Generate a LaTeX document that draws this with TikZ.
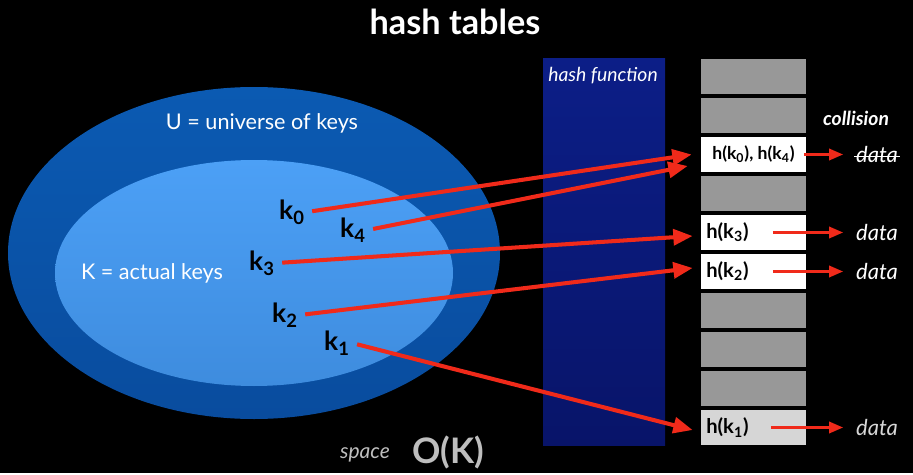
\documentclass[tikz,border=0pt]{standalone}
\usepackage{fontspec}
\setmainfont{Lato}
\usetikzlibrary{arrows.meta}

\definecolor{outerblue}{RGB}{11,90,178}
\definecolor{outerbluedark}{RGB}{9,76,158}
\definecolor{innerblue}{RGB}{76,160,246}
\definecolor{innerbluedark}{RGB}{62,140,222}
\definecolor{hashblue}{RGB}{12,30,135}
\definecolor{hashbluedark}{RGB}{8,20,105}
\definecolor{cellgray}{RGB}{152,152,152}
\definecolor{celllight}{RGB}{214,214,214}
\definecolor{keyred}{RGB}{240,42,26}
\definecolor{softgray}{RGB}{190,190,190}

\tikzset{
  cell/.style={minimum width=2.1cm, minimum height=0.7cm, inner sep=0pt},
  keylabel/.style={font=\fontsize{15}{15}\selectfont\bfseries, inner sep=1pt},
  celllabel/.style={font=\fontsize{11.5}{11.5}\selectfont\bfseries, anchor=west, inner sep=1pt},
  datalabel/.style={font=\fontsize{12.5}{12.5}\selectfont\itshape, text=white, inner sep=1pt},
  hasharrow/.style={draw=keyred, line width=2.3pt, shorten <=3pt, -{Triangle[length=11pt,width=9pt]}},
  dataarrow/.style={draw=keyred, line width=1.4pt, -{Triangle[length=8pt,width=6.5pt]}},
}

\begin{document}
\begin{tikzpicture}
    \fill[black] (0,0) rectangle (18.26,9.46);
    \node[text=white, font=\fontsize{19.5}{19.5}\selectfont\bfseries] (title) at (9.10,9.02) {hash tables};
        % universe U and actual keys K
        \shade[top color=outerblue, bottom color=outerbluedark] (5.08,4.40) ellipse (4.92 and 3.32);
        \shade[top color=innerblue, bottom color=innerbluedark] (5.08,4.00) ellipse (3.98 and 2.26);
        \node[text=white, font=\fontsize{12.3}{12.3}\selectfont] (U) at (5.24,7.00) {U = universe of keys};
        \node[text=white, font=\fontsize{12.3}{12.3}\selectfont] (K) at (3.04,4.00) {K = actual keys};
        \node[keylabel] (k0) at (5.84,5.22) {k\textsubscript{0}};
        \node[keylabel] (k4) at (7.06,4.86) {k\textsubscript{4}};
        \node[keylabel] (k3) at (5.24,4.20) {k\textsubscript{3}};
        \node[keylabel] (k2) at (5.70,3.16) {k\textsubscript{2}};
        \node[keylabel] (k1) at (6.74,2.60) {k\textsubscript{1}};
        % hash function
        \shade[top color=hashblue, bottom color=hashbluedark] (10.86,0.56) rectangle (13.30,8.30);
        \node[text=white, font=\fontsize{11}{11}\selectfont\itshape] (hf) at (12.06,7.94) {hash function};
        % table
        \foreach \i/\c in {0/cellgray,1/cellgray,2/white,3/cellgray,4/white,5/white,6/cellgray,7/cellgray,8/cellgray,9/celllight}{
          \node[cell, fill=\c] (c\i) at (15.07,{7.93-0.78*\i}) {};
          }
        \node[celllabel, font=\fontsize{10}{10}\selectfont\bfseries, anchor=center] (h04) at (c2) {h(k\textsubscript{0}), h(k\textsubscript{4})};
        \node[celllabel] (h3) at ([xshift=2pt]c4.west) {h(k\textsubscript{3})};
        \node[celllabel] (h2) at ([xshift=2pt]c5.west) {h(k\textsubscript{2})};
        \node[celllabel] (h1) at ([xshift=2pt]c9.west) {h(k\textsubscript{1})};
        \node[text=white, font=\fontsize{11}{11}\selectfont\bfseries\itshape] (coll) at (17.12,7.10) {collision};
        \node[datalabel] (d04) at (17.54,6.37) {data};
        \draw[white, line width=0.6pt] ([yshift=-1pt]d04.west) -- ([yshift=-1pt]d04.east);
        \node[datalabel] (d3) at (17.54,4.81) {data};
        \node[datalabel] (d2) at (17.54,4.03) {data};
        \node[datalabel, text=celllight] (d1) at (17.54,0.91) {data};
        % keys to slots
        \draw[hasharrow] (k0.east) -- ([xshift=-0.18cm]c2.west);
        \draw[hasharrow] (k4.east) -- ([xshift=-0.26cm,yshift=-0.23cm]c2.west);
        \draw[hasharrow] (k3.east) -- ([xshift=-0.16cm,yshift=-0.07cm]c4.west);
        \draw[hasharrow] (k2.east) -- ([xshift=-0.16cm,yshift=0.07cm]c5.west);
        \draw[hasharrow] (k1.east) -- ([xshift=-0.16cm,yshift=-0.05cm]c9.west);
        % slots to data
        \draw[dataarrow] ([xshift=0.14cm]h04.east) -- ([xshift=-0.22cm]d04.west);
        \draw[dataarrow] ([xshift=0.44cm]h3.east) -- ([xshift=-0.22cm]d3.west);
        \draw[dataarrow] ([xshift=0.44cm]h2.east) -- ([xshift=-0.22cm]d2.west);
        \draw[dataarrow] ([xshift=0.40cm]h1.east) -- ([xshift=-0.22cm]d1.west);
        % space
        \node[text=softgray, font=\fontsize{12}{12}\selectfont\itshape] (sp) at (7.30,0.36) {space};
        \node[text=softgray, font=\fontsize{20}{20}\selectfont\bfseries] (ok) at (8.96,0.42) {O(K)};
    \end{tikzpicture}
\end{document}
